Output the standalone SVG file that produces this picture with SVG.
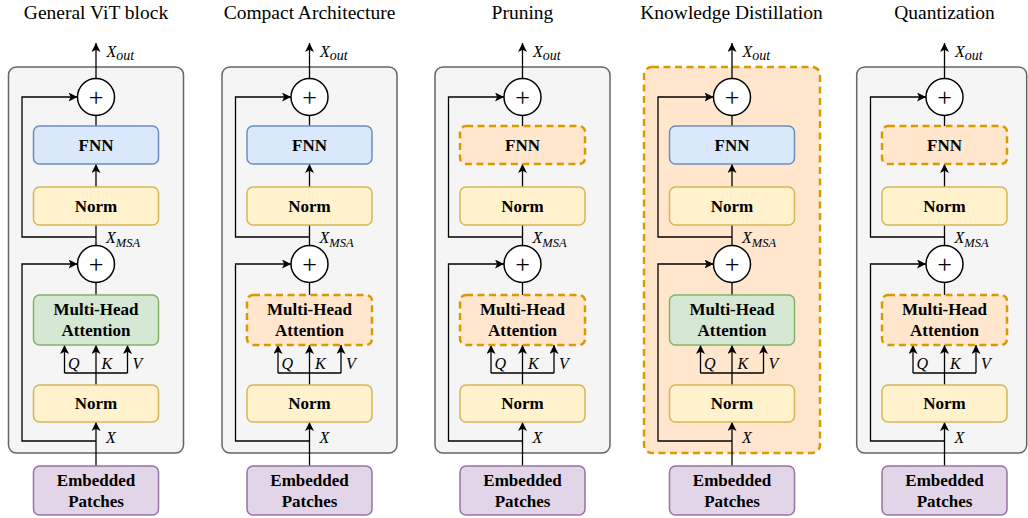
<svg xmlns="http://www.w3.org/2000/svg" width="1028" height="518" viewBox="0 0 1028 518">
<style>
.title{font-family:"Liberation Serif","Times New Roman",serif;font-size:19.5px;fill:#000;text-anchor:middle}
.lbl{font-family:"Liberation Serif","Times New Roman",serif;font-size:17px;font-weight:bold;fill:#000;text-anchor:middle}
.it{font-family:"Liberation Serif","Times New Roman",serif;font-size:16px;font-style:italic;fill:#000}
.plus{font-family:"Liberation Serif","Times New Roman",serif;font-size:26px;fill:#000;text-anchor:middle}
.panel{fill:#f5f5f5;stroke:#666666;stroke-width:1.5}
.panelhl{fill:#ffe6cc;stroke:#d79b00;stroke-width:2.5;stroke-dasharray:7 4.5}
.fnn{fill:#dae8fc;stroke:#6c8ebf;stroke-width:1.5}
.norm{fill:#fff2cc;stroke:#d6b656;stroke-width:1.5}
.mha{fill:#d5e8d4;stroke:#82b366;stroke-width:1.5}
.emb{fill:#e1d5e7;stroke:#9673a6;stroke-width:1.5}
.hl{fill:#ffe6cc;stroke:#d79b00;stroke-width:2.5;stroke-dasharray:7 4.5}
.circ{fill:#fff;stroke:#000;stroke-width:1.5}
.ln{fill:none;stroke:#000;stroke-width:1.3}
.arr{marker-end:url(#ah)}
</style>
<defs>
<marker id="ah" markerUnits="userSpaceOnUse" markerWidth="10" markerHeight="9" refX="9" refY="4.5" orient="auto" viewBox="0 0 10 9">
<path d="M0,0 L9,4.5 L0,9 L2.2,4.5 Z" fill="#000"/>
</marker>
</defs>

<!-- Titles -->
<text class="title" x="96" y="19">General ViT block</text>
<text class="title" x="309.5" y="19">Compact Architecture</text>
<text class="title" x="522.5" y="19">Pruning</text>
<text class="title" x="731.5" y="19">Knowledge Distillation</text>
<text class="title" x="944.5" y="19">Quantization</text>

<!-- Panel 1: General ViT block -->
<g id="panel1" transform="translate(96,0)">
<g id="p1-block"><rect class="panel" x="-87.5" y="67" width="175" height="386" rx="8"/></g>
<g id="p1-connectors">
<path class="ln arr" d="M0,466 V422"/>
<path class="ln arr" d="M0,441 H-74 V264 H-18.5"/>
<path class="ln arr" d="M0,385 V345"/>
<path class="ln" d="M-31.5,373 H31.5"/>
<path class="ln arr" d="M-31.5,373 V345"/>
<path class="ln arr" d="M31.5,373 V345"/>
<path class="ln" d="M0,295 V282.5"/>
<path class="ln" d="M0,245.5 V225"/>
<path class="ln arr" d="M0,237 H-74 V97 H-18.5"/>
<path class="ln arr" d="M0,187 V164"/>
<path class="ln" d="M0,126 V115.5"/>
<path class="ln arr" d="M0,78.5 V43"/>
</g>
<g id="p1-add2"><circle class="circ" cx="0" cy="97" r="18.5"/><text class="plus" x="0" y="105.5">+</text></g>
<g id="p1-fnn"><rect class="fnn" x="-62.5" y="126" width="125" height="38" rx="6"/><text class="lbl" x="0" y="151">FNN</text></g>
<g id="p1-norm2"><rect class="norm" x="-62.5" y="187" width="125" height="38" rx="6"/><text class="lbl" x="0" y="212">Norm</text></g>
<g id="p1-add1"><circle class="circ" cx="0" cy="264" r="18.5"/><text class="plus" x="0" y="272.5">+</text></g>
<g id="p1-mha"><rect class="mha" x="-62.5" y="295" width="125" height="50" rx="6"/><text class="lbl" x="0" y="315">Multi-Head</text><text class="lbl" x="0" y="336">Attention</text></g>
<g id="p1-norm1"><rect class="norm" x="-62.5" y="385" width="125" height="37" rx="6"/><text class="lbl" x="0" y="409">Norm</text></g>
<g id="p1-emb"><rect class="emb" x="-62.5" y="466" width="125" height="49" rx="6"/><text class="lbl" x="0" y="486">Embedded</text><text class="lbl" x="0" y="507">Patches</text></g>
<g id="p1-labels">
<text class="it" x="10.5" y="57">X<tspan font-size="14" dy="3">out</tspan></text>
<text class="it" x="10" y="243">X<tspan font-size="12.5" dy="3.5">MSA</tspan></text>
<text class="it" x="10" y="443">X</text>
<text class="it" x="-28" y="369">Q</text>
<text class="it" x="5.5" y="369">K</text>
<text class="it" x="36.5" y="369">V</text>
</g>
</g>

<!-- Panel 2: Compact Architecture -->
<g id="panel2" transform="translate(309.5,0)">
<g id="p2-block"><rect class="panel" x="-87.5" y="67" width="175" height="386" rx="8"/></g>
<g id="p2-connectors">
<path class="ln arr" d="M0,466 V422"/>
<path class="ln arr" d="M0,441 H-74 V264 H-18.5"/>
<path class="ln arr" d="M0,385 V345"/>
<path class="ln" d="M-31.5,373 H31.5"/>
<path class="ln arr" d="M-31.5,373 V345"/>
<path class="ln arr" d="M31.5,373 V345"/>
<path class="ln" d="M0,295 V282.5"/>
<path class="ln" d="M0,245.5 V225"/>
<path class="ln arr" d="M0,237 H-74 V97 H-18.5"/>
<path class="ln arr" d="M0,187 V164"/>
<path class="ln" d="M0,126 V115.5"/>
<path class="ln arr" d="M0,78.5 V43"/>
</g>
<g id="p2-add2"><circle class="circ" cx="0" cy="97" r="18.5"/><text class="plus" x="0" y="105.5">+</text></g>
<g id="p2-fnn"><rect class="fnn" x="-62.5" y="126" width="125" height="38" rx="6"/><text class="lbl" x="0" y="151">FNN</text></g>
<g id="p2-norm2"><rect class="norm" x="-62.5" y="187" width="125" height="38" rx="6"/><text class="lbl" x="0" y="212">Norm</text></g>
<g id="p2-add1"><circle class="circ" cx="0" cy="264" r="18.5"/><text class="plus" x="0" y="272.5">+</text></g>
<g id="p2-mha"><rect class="hl" x="-62.5" y="295" width="125" height="50" rx="6"/><text class="lbl" x="0" y="315">Multi-Head</text><text class="lbl" x="0" y="336">Attention</text></g>
<g id="p2-norm1"><rect class="norm" x="-62.5" y="385" width="125" height="37" rx="6"/><text class="lbl" x="0" y="409">Norm</text></g>
<g id="p2-emb"><rect class="emb" x="-62.5" y="466" width="125" height="49" rx="6"/><text class="lbl" x="0" y="486">Embedded</text><text class="lbl" x="0" y="507">Patches</text></g>
<g id="p2-labels">
<text class="it" x="10.5" y="57">X<tspan font-size="14" dy="3">out</tspan></text>
<text class="it" x="10" y="243">X<tspan font-size="12.5" dy="3.5">MSA</tspan></text>
<text class="it" x="10" y="443">X</text>
<text class="it" x="-28" y="369">Q</text>
<text class="it" x="5.5" y="369">K</text>
<text class="it" x="36.5" y="369">V</text>
</g>
</g>

<!-- Panel 3: Pruning -->
<g id="panel3" transform="translate(522.5,0)">
<g id="p3-block"><rect class="panel" x="-87.5" y="67" width="175" height="386" rx="8"/></g>
<g id="p3-connectors">
<path class="ln arr" d="M0,466 V422"/>
<path class="ln arr" d="M0,441 H-74 V264 H-18.5"/>
<path class="ln arr" d="M0,385 V345"/>
<path class="ln" d="M-31.5,373 H31.5"/>
<path class="ln arr" d="M-31.5,373 V345"/>
<path class="ln arr" d="M31.5,373 V345"/>
<path class="ln" d="M0,295 V282.5"/>
<path class="ln" d="M0,245.5 V225"/>
<path class="ln arr" d="M0,237 H-74 V97 H-18.5"/>
<path class="ln arr" d="M0,187 V164"/>
<path class="ln" d="M0,126 V115.5"/>
<path class="ln arr" d="M0,78.5 V43"/>
</g>
<g id="p3-add2"><circle class="circ" cx="0" cy="97" r="18.5"/><text class="plus" x="0" y="105.5">+</text></g>
<g id="p3-fnn"><rect class="hl" x="-62.5" y="126" width="125" height="38" rx="6"/><text class="lbl" x="0" y="151">FNN</text></g>
<g id="p3-norm2"><rect class="norm" x="-62.5" y="187" width="125" height="38" rx="6"/><text class="lbl" x="0" y="212">Norm</text></g>
<g id="p3-add1"><circle class="circ" cx="0" cy="264" r="18.5"/><text class="plus" x="0" y="272.5">+</text></g>
<g id="p3-mha"><rect class="hl" x="-62.5" y="295" width="125" height="50" rx="6"/><text class="lbl" x="0" y="315">Multi-Head</text><text class="lbl" x="0" y="336">Attention</text></g>
<g id="p3-norm1"><rect class="norm" x="-62.5" y="385" width="125" height="37" rx="6"/><text class="lbl" x="0" y="409">Norm</text></g>
<g id="p3-emb"><rect class="emb" x="-62.5" y="466" width="125" height="49" rx="6"/><text class="lbl" x="0" y="486">Embedded</text><text class="lbl" x="0" y="507">Patches</text></g>
<g id="p3-labels">
<text class="it" x="10.5" y="57">X<tspan font-size="14" dy="3">out</tspan></text>
<text class="it" x="10" y="243">X<tspan font-size="12.5" dy="3.5">MSA</tspan></text>
<text class="it" x="10" y="443">X</text>
<text class="it" x="-28" y="369">Q</text>
<text class="it" x="5.5" y="369">K</text>
<text class="it" x="36.5" y="369">V</text>
</g>
</g>

<!-- Panel 4: Knowledge Distillation -->
<g id="panel4" transform="translate(732,0)">
<g id="p4-block"><rect class="panelhl" x="-88" y="67" width="176" height="386" rx="8"/></g>
<g id="p4-connectors">
<path class="ln arr" d="M0,466 V422"/>
<path class="ln arr" d="M0,441 H-74 V264 H-18.5"/>
<path class="ln arr" d="M0,385 V345"/>
<path class="ln" d="M-31.5,373 H31.5"/>
<path class="ln arr" d="M-31.5,373 V345"/>
<path class="ln arr" d="M31.5,373 V345"/>
<path class="ln" d="M0,295 V282.5"/>
<path class="ln" d="M0,245.5 V225"/>
<path class="ln arr" d="M0,237 H-74 V97 H-18.5"/>
<path class="ln arr" d="M0,187 V164"/>
<path class="ln" d="M0,126 V115.5"/>
<path class="ln arr" d="M0,78.5 V43"/>
</g>
<g id="p4-add2"><circle class="circ" cx="0" cy="97" r="18.5"/><text class="plus" x="0" y="105.5">+</text></g>
<g id="p4-fnn"><rect class="fnn" x="-62.5" y="126" width="125" height="38" rx="6"/><text class="lbl" x="0" y="151">FNN</text></g>
<g id="p4-norm2"><rect class="norm" x="-62.5" y="187" width="125" height="38" rx="6"/><text class="lbl" x="0" y="212">Norm</text></g>
<g id="p4-add1"><circle class="circ" cx="0" cy="264" r="18.5"/><text class="plus" x="0" y="272.5">+</text></g>
<g id="p4-mha"><rect class="mha" x="-62.5" y="295" width="125" height="50" rx="6"/><text class="lbl" x="0" y="315">Multi-Head</text><text class="lbl" x="0" y="336">Attention</text></g>
<g id="p4-norm1"><rect class="norm" x="-62.5" y="385" width="125" height="37" rx="6"/><text class="lbl" x="0" y="409">Norm</text></g>
<g id="p4-emb"><rect class="emb" x="-62.5" y="466" width="125" height="49" rx="6"/><text class="lbl" x="0" y="486">Embedded</text><text class="lbl" x="0" y="507">Patches</text></g>
<g id="p4-labels">
<text class="it" x="10.5" y="57">X<tspan font-size="14" dy="3">out</tspan></text>
<text class="it" x="10" y="243">X<tspan font-size="12.5" dy="3.5">MSA</tspan></text>
<text class="it" x="10" y="443">X</text>
<text class="it" x="-28" y="369">Q</text>
<text class="it" x="5.5" y="369">K</text>
<text class="it" x="36.5" y="369">V</text>
</g>
</g>

<!-- Panel 5: Quantization -->
<g id="panel5" transform="translate(944.5,0)">
<g id="p5-block"><rect class="panel" x="-87.8" y="67" width="170" height="386" rx="8"/></g>
<g id="p5-connectors">
<path class="ln arr" d="M0,466 V422"/>
<path class="ln arr" d="M0,441 H-74 V264 H-18.5"/>
<path class="ln arr" d="M0,385 V345"/>
<path class="ln" d="M-31.5,373 H31.5"/>
<path class="ln arr" d="M-31.5,373 V345"/>
<path class="ln arr" d="M31.5,373 V345"/>
<path class="ln" d="M0,295 V282.5"/>
<path class="ln" d="M0,245.5 V225"/>
<path class="ln arr" d="M0,237 H-74 V97 H-18.5"/>
<path class="ln arr" d="M0,187 V164"/>
<path class="ln" d="M0,126 V115.5"/>
<path class="ln arr" d="M0,78.5 V43"/>
</g>
<g id="p5-add2"><circle class="circ" cx="0" cy="97" r="18.5"/><text class="plus" x="0" y="105.5">+</text></g>
<g id="p5-fnn"><rect class="hl" x="-62.5" y="126" width="125" height="38" rx="6"/><text class="lbl" x="0" y="151">FNN</text></g>
<g id="p5-norm2"><rect class="norm" x="-62.5" y="187" width="125" height="38" rx="6"/><text class="lbl" x="0" y="212">Norm</text></g>
<g id="p5-add1"><circle class="circ" cx="0" cy="264" r="18.5"/><text class="plus" x="0" y="272.5">+</text></g>
<g id="p5-mha"><rect class="hl" x="-62.5" y="295" width="125" height="50" rx="6"/><text class="lbl" x="0" y="315">Multi-Head</text><text class="lbl" x="0" y="336">Attention</text></g>
<g id="p5-norm1"><rect class="norm" x="-62.5" y="385" width="125" height="37" rx="6"/><text class="lbl" x="0" y="409">Norm</text></g>
<g id="p5-emb"><rect class="emb" x="-62.5" y="466" width="125" height="49" rx="6"/><text class="lbl" x="0" y="486">Embedded</text><text class="lbl" x="0" y="507">Patches</text></g>
<g id="p5-labels">
<text class="it" x="10.5" y="57">X<tspan font-size="14" dy="3">out</tspan></text>
<text class="it" x="10" y="243">X<tspan font-size="12.5" dy="3.5">MSA</tspan></text>
<text class="it" x="10" y="443">X</text>
<text class="it" x="-28" y="369">Q</text>
<text class="it" x="5.5" y="369">K</text>
<text class="it" x="36.5" y="369">V</text>
</g>
</g>
</svg>
